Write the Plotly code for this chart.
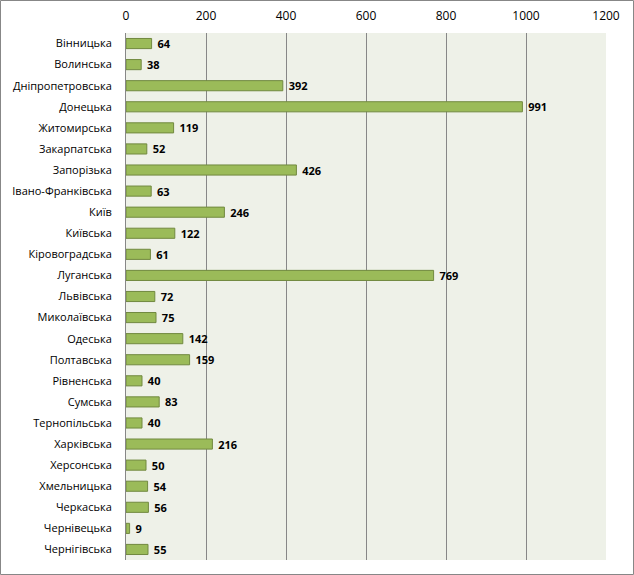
import plotly.graph_objects as go

regions = ["Вінницька", "Волинська", "Дніпропетровська", "Донецька", "Житомирська",
           "Закарпатська", "Запорізька", "Івано-Франківська", "Київ", "Київська",
           "Кіровоградська", "Луганська", "Львівська", "Миколаївська", "Одеська",
           "Полтавська", "Рівненська", "Сумська", "Тернопільська", "Харківська",
           "Херсонська", "Хмельницька", "Черкаська", "Чернівецька", "Чернігівська"]
values = [64, 38, 392, 991, 119, 52, 426, 63, 246, 122, 61, 769, 72, 75, 142,
          159, 40, 83, 40, 216, 50, 54, 56, 9, 55]
tick_vals = [0, 200, 400, 600, 800, 1000, 1200]

W, H = 634, 575
L, R, T, B = 126, 28, 33, 15
pw, ph = W - L - R, H - T - B

fig = go.Figure(go.Bar(
    x=values, y=regions, orientation="h",
    marker=dict(color="#9BBB59", line=dict(color="#71893F", width=1)),
    text=[f" <b>{v}</b>" for v in values], textposition="outside",
    constraintext="none",
    textfont=dict(family="Open Sans, sans-serif", size=11, color="#000000"),
    cliponaxis=False,
))

fig.update_layout(
    width=W, height=H,
    margin=dict(l=L, r=R, t=T, b=B, pad=0, autoexpand=False),
    paper_bgcolor="white", plot_bgcolor="#EEF1E8",
    bargap=0.52, showlegend=False,
    uniformtext=dict(minsize=11, mode="show"),
    font=dict(family="Open Sans, sans-serif", size=11, color="#000000"),
    xaxis=dict(side="top", range=[0, 1200], tickvals=tick_vals,
               showgrid=True, gridcolor="#878787", gridwidth=1,
               zeroline=False, showline=False, automargin=False,
               ticks="outside", ticklen=7, tickcolor="rgba(0,0,0,0)",
               tickfont=dict(size=12), fixedrange=True),
    yaxis=dict(autorange="reversed", showgrid=False, zeroline=False,
               showline=True, linecolor="#878787", linewidth=1, automargin=False,
               ticks="", ticklabelstandoff=11, tickfont=dict(size=11)),
    shapes=[dict(type="rect", xref="paper", yref="paper",
                 x0=-(L - 0.5) / pw, x1=1 + (R - 0.5) / pw,
                 y0=-(B - 0.5) / ph, y1=1 + (T - 0.5) / ph,
                 line=dict(color="#878787", width=1), layer="above")],
)

fig.write_html("out.html")
